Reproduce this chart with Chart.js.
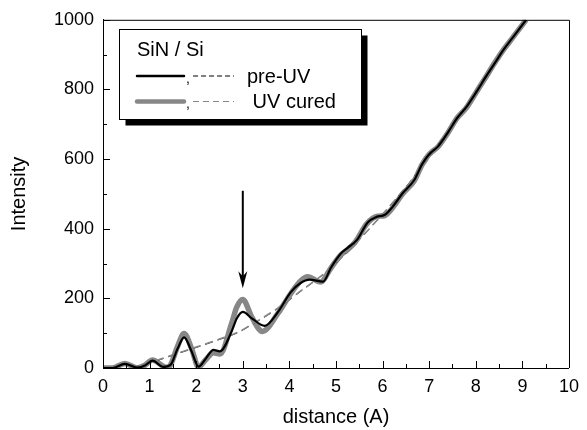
<!DOCTYPE html>
<html>
<head>
<meta charset="utf-8">
<script src="https://cdn.jsdelivr.net/npm/chart.js@4"></script>
<style>
  html, body { margin: 0; padding: 0; background: #fff; }
  #wrap { width: 587px; height: 430px; }
</style>
</head>
<body>
<div id="wrap"><canvas id="rdfChart" width="587" height="430"></canvas></div>
<script>
// pre-UV curve (black)
const preX = [0, 0.2, 0.47, 0.74, 0.9, 1.06, 1.3, 1.45, 1.6, 1.74, 1.9, 2.05, 2.2, 2.37, 2.51, 2.76, 2.87, 3.0, 3.2, 3.47, 3.75, 4.03, 4.24, 4.43, 4.72, 4.9, 5.1, 5.25, 5.45, 5.68, 5.87, 6.05, 6.22, 6.43, 6.68, 6.85, 7.0, 7.2, 7.4, 7.6, 7.8, 8.0, 8.2, 8.4, 8.6, 8.8, 9.08];
const preY = [0, 0, 12, 1, 7, 21, 3, 9, 55, 88, 48, 4, 26, 52, 48, 105, 142, 161, 142, 121, 160, 218, 244, 254, 248, 290, 328, 345, 368, 418, 434, 440, 464, 502, 540, 586, 614, 638, 676, 718, 750, 790, 833, 874, 915, 950, 1000];

// UV cured curve (grey)
const curedX = [0, 0.2, 0.47, 0.74, 0.9, 1.06, 1.36, 1.45, 1.6, 1.74, 1.9, 2.05, 2.2, 2.37, 2.51, 2.76, 2.87, 3.0, 3.19, 3.42, 3.75, 4.03, 4.24, 4.39, 4.67, 4.88, 5.09, 5.23, 5.41, 5.66, 5.87, 6.05, 6.22, 6.43, 6.68, 6.85, 7.0, 7.2, 7.4, 7.6, 7.8, 8.0, 8.2, 8.4, 8.6, 8.8, 9.08];
const curedY = [0, 0, 13, 0, 8, 23, 2, 9, 62, 99, 56, 3, 23, 44, 40, 128, 175, 197, 147, 105, 156, 214, 250, 262, 247, 285, 323, 338, 361, 414, 435, 438, 461, 500, 538, 585, 614, 637, 675, 718, 748, 790, 832, 875, 915, 950, 1000];

// background lines (dashed)
const baseX = [0.6, 1.0, 1.5, 2.0, 2.5, 2.9, 3.1, 3.75, 4.25, 4.75, 5.25, 5.75, 6.25, 6.75, 7.25, 7.75, 8.25, 8.75, 9.05];
const preBase = [0, 14, 37, 59, 82, 102, 117, 171, 221, 271, 334, 405, 480, 562, 652, 746, 846, 940, 1000];
const curedBase = [0, 15, 38, 60, 83, 103, 118, 172, 222, 272, 335, 405, 480, 560, 650, 745, 845, 940, 1000];

const xTicks = [0, 1, 2, 3, 4, 5, 6, 7, 8, 9, 10];
const yTicks = [0, 200, 400, 600, 800, 1000];

// arrow marking the first peak
const arrowX = 3.0;
const arrowFrom = 509;
const arrowTo = 229;

const legendTitle = "SiN / Si";
const legendLabels = ["pre-UV", " UV cured"];

const GREY = "#878787";
const FONT = "'Liberation Sans', Arial, sans-serif";

const pts = (xs, ys) => xs.map((x, i) => ({ x: x, y: ys[i] }));

const frameTicks = {
  id: "frameTicks",
  afterDraw(chart) {
    const { ctx, chartArea: a, scales: { x, y } } = chart;
    ctx.save();
    ctx.strokeStyle = "#000";
    ctx.lineWidth = 1;
    ctx.beginPath();
    ctx.moveTo(a.left, a.top + 0.5);
    ctx.lineTo(a.right + 0.5, a.top + 0.5);
    ctx.lineTo(a.right + 0.5, a.bottom);
    ctx.stroke();
    ctx.beginPath();
    for (let v = 0; v <= 10; v += 0.5) {
      const px = Math.round(x.getPixelForValue(v)) + 0.5;
      const len = v % 1 === 0 ? 7 : 4;
      ctx.moveTo(px, a.bottom);
      ctx.lineTo(px, a.bottom - len);
    }
    for (let v = 0; v <= 1000; v += 100) {
      const py = Math.round(y.getPixelForValue(v)) + 0.5;
      const len = v % 200 === 0 ? 7 : 4;
      ctx.moveTo(a.left, py);
      ctx.lineTo(a.left + len, py);
    }
    ctx.stroke();

    // arrow
    const ax = x.getPixelForValue(arrowX);
    const ay0 = y.getPixelForValue(arrowFrom);
    const ay1 = y.getPixelForValue(arrowTo);
    ctx.lineWidth = 2;
    ctx.beginPath();
    ctx.moveTo(ax, ay0);
    ctx.lineTo(ax, ay1 - 12);
    ctx.stroke();
    ctx.fillStyle = "#000";
    ctx.beginPath();
    ctx.moveTo(ax - 4.5, ay1 - 17);
    ctx.lineTo(ax, ay1 - 12);
    ctx.lineTo(ax + 4.5, ay1 - 17);
    ctx.lineTo(ax, ay1);
    ctx.closePath();
    ctx.fill();

    // legend box with shadow
    const bx = 119.5, by = 29.5, bw = 242, bh = 90;
    ctx.fillRect(bx + 6, by + 6, bw, bh);
    ctx.fillStyle = "#fff";
    ctx.fillRect(bx, by, bw, bh);
    ctx.lineWidth = 1;
    ctx.strokeRect(bx, by, bw, bh);

    ctx.fillStyle = "#000";
    ctx.font = "20px " + FONT;
    ctx.textBaseline = "middle";
    ctx.fillText(legendTitle, 137, 50);

    const rows = [
      { y: 76, color: "#000", w: 2.5, dash: [5, 3], dcolor: "#000" },
      { y: 101.5, color: GREY, w: 4.5, dash: [6, 4], dcolor: GREY },
    ];
    rows.forEach((r, i) => {
      ctx.strokeStyle = r.color;
      ctx.lineWidth = r.w;
      ctx.lineCap = "round";
      ctx.setLineDash([]);
      ctx.beginPath();
      ctx.moveTo(137, r.y);
      ctx.lineTo(184, r.y);
      ctx.stroke();
      ctx.lineCap = "butt";
      ctx.fillStyle = "#000";
      ctx.font = "14px " + FONT;
      ctx.fillText(",", 186, r.y + 3);
      ctx.strokeStyle = r.dcolor;
      ctx.lineWidth = 1;
      ctx.setLineDash(r.dash);
      ctx.beginPath();
      ctx.moveTo(193, r.y);
      ctx.lineTo(234, r.y);
      ctx.stroke();
      ctx.setLineDash([]);
      ctx.font = "20px " + FONT;
      ctx.fillText(legendLabels[i], 247, r.y + 1);
    });
    ctx.restore();
  },
};

const rdfCtx = document.getElementById("rdfChart");
if (rdfCtx) {
  new Chart(rdfCtx, {
    type: "line",
    data: {
      datasets: [
        { label: "pre-UV", data: pts(preX, preY), borderColor: "#000", borderWidth: 2.2 },
        { label: "UV cured bg", data: pts(baseX, curedBase), borderColor: GREY, borderWidth: 1.6, borderDash: [8, 5] },
        { label: "pre-UV bg", data: pts(baseX, preBase), borderColor: "#000", borderWidth: 1, borderDash: [8, 5] },
        { label: "UV cured", data: pts(curedX, curedY), borderColor: GREY, borderWidth: 5.5 },
      ],
    },
    options: {
      responsive: false,
      animation: false,
      layout: { padding: { top: 18, right: 12, left: 0, bottom: 0 } },
      elements: {
        point: { radius: 0 },
        line: { cubicInterpolationMode: "monotone", fill: false },
      },
      plugins: { legend: { display: false }, tooltip: { enabled: false } },
      scales: {
        x: {
          type: "linear",
          min: 0,
          max: 10,
          afterFit: (s) => { s.height = 62; },
          afterBuildTicks: (s) => { s.ticks = xTicks.map((v) => ({ value: v })); },
          grid: { display: false, drawTicks: false },
          border: { display: true, color: "#000", width: 1 },
          ticks: { color: "#000", padding: 8, font: { family: FONT, size: 18 }, maxRotation: 0, callback: (v) => String(v) },
          title: { display: true, text: "distance (A)", color: "#000", font: { family: FONT, size: 20 }, padding: { top: 0, bottom: 1 } },
        },
        y: {
          min: 0,
          max: 1000,
          afterFit: (s) => { s.width = 103; },
          afterBuildTicks: (s) => { s.ticks = yTicks.map((v) => ({ value: v })); },
          grid: { display: false, drawTicks: false },
          border: { display: true, color: "#000", width: 1 },
          ticks: { color: "#000", padding: 9, font: { family: FONT, size: 18 }, callback: (v) => String(v) },
          title: { display: true, text: "Intensity", color: "#000", font: { family: FONT, size: 20 }, padding: { top: 7, bottom: 0 } },
        },
      },
    },
    plugins: [frameTicks],
  });
}
</script>
</body>
</html>
